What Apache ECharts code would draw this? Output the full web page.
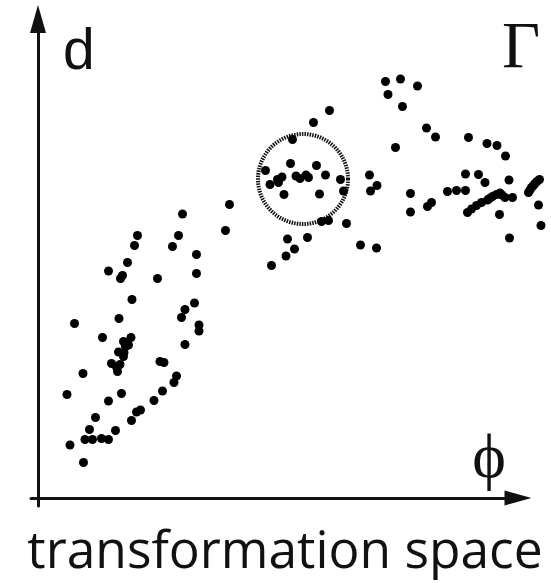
<!DOCTYPE html>
<html>
<head>
<meta charset="utf-8">
<script src="https://cdn.jsdelivr.net/npm/echarts@6/dist/echarts.min.js"></script>
<style>
  html, body { margin: 0; padding: 0; background: #fff; }
  #chart { width: 551px; height: 583px; }
</style>
</head>
<body>
<div id="chart"></div>
<script>
// Samples in transformation space: [phi, d]
const risingBranch = [
  [28.9, 56.8], [19.9, 52.5], [28.1, 52.5], [19.3, 50.5], [26.9, 50.3], [31.7, 48.7],
  [17.9, 47.1], [14.1, 45.4], [16.9, 44.5], [16.5, 43.9], [23.9, 43.9], [31.7, 44.9],
  [18.8, 39.7], [31.3, 39.0], [29.4, 37.7], [28.7, 36.1], [16.2, 35.9], [7.3, 34.9],
  [32.2, 34.6], [32.2, 33.4], [12.9, 32.1], [18.6, 32.1], [17.1, 31.3], [29.4, 30.7],
  [17.5, 30.3], [18.1, 30.6], [16.1, 29.2], [17.2, 29.1], [17.1, 28.3], [14.7, 26.9],
  [16.4, 26.7], [15.7, 26.2], [24.4, 27.3], [25.2, 27.1], [15.9, 25.3], [9.0, 24.9],
  [27.7, 24.4], [27.2, 23.1], [5.8, 20.7], [16.7, 20.9], [24.9, 21.4], [14.1, 19.4],
  [23.2, 19.5], [20.5, 17.6], [19.7, 17.2], [11.5, 16.1], [18.7, 15.5], [10.3, 13.7],
  [15.5, 13.5], [9.4, 11.7], [10.9, 11.7], [12.7, 11.9], [14.1, 11.7], [6.4, 10.6],
  [9.1, 7.1]
];

const middleBranch = [
  [38.3, 58.7], [37.5, 53.5], [46.7, 46.5], [58.3, 77.5], [55.1, 75.1], [50.9, 71.7],
  [50.5, 66.9], [55.7, 66.5], [45.5, 65.5], [57.5, 64.6], [48.8, 64.2], [47.9, 63.7],
  [51.6, 64.4], [52.4, 63.9], [53.6, 64.6], [54.1, 64.1], [60.5, 63.7], [46.4, 62.7],
  [48.1, 63.1], [61.1, 61.4], [49.2, 60.7], [56.3, 60.8], [56.7, 55.3], [58.1, 55.5],
  [61.7, 54.9], [49.9, 51.8], [53.9, 52.1], [51.3, 49.8], [49.6, 48.4], [64.5, 50.6],
  [67.7, 50.0]
];

const plateauBranch = [
  [69.5, 83.3], [72.5, 83.8], [75.9, 82.4], [70.0, 80.7], [72.9, 78.3], [77.7, 74.0],
  [79.5, 72.2], [86.1, 72.1], [71.5, 70.1], [89.8, 70.9], [91.8, 70.5], [93.5, 68.4],
  [66.3, 64.6], [85.5, 64.8], [88.1, 64.7], [94.2, 63.6], [89.4, 63.1], [100.3, 63.7],
  [99.8, 63.3], [99.4, 62.9], [99.1, 62.5], [98.7, 62.1], [98.4, 61.6], [98.1, 61.1],
  [67.8, 62.5], [66.5, 61.4], [81.9, 61.3], [83.7, 61.5], [85.5, 61.5], [74.5, 60.9],
  [91.7, 60.7], [92.4, 61.0], [92.8, 60.6], [90.9, 60.3], [90.3, 59.9], [93.4, 60.1],
  [94.9, 60.1], [89.9, 59.6], [88.7, 59.1], [87.7, 58.5], [86.7, 57.8], [85.9, 57.1],
  [78.7, 59.1], [77.9, 58.3], [74.5, 57.2], [100.1, 58.6], [92.3, 56.7], [100.6, 54.5],
  [94.3, 52.0]
];

// Neighbourhood marked with a dotted circle
const regionCenter = [53.0, 63.8];
const regionRadius = 9.0;

const chart = echarts.init(document.getElementById('chart'), null, { renderer: 'canvas' });

const dotStyle = { color: '#000', opacity: 1 };
const hidden = { show: false };

chart.setOption({
  backgroundColor: '#ffffff',
  animation: false,
  grid: { left: 31, top: 19, width: 487, height: 487 },
  xAxis: {
    type: 'value', min: -1.4, max: 96,
    axisLine: {
      show: true, onZero: true,
      symbol: ['none', 'triangle'], symbolSize: [15, 27],
      lineStyle: { color: '#111', width: 3 }
    },
    axisTick: hidden, axisLabel: hidden, splitLine: hidden
  },
  yAxis: {
    type: 'value', min: -1.6, max: 95.8,
    axisLine: {
      show: true, onZero: true,
      symbol: ['none', 'triangle'], symbolSize: [16, 28],
      lineStyle: { color: '#111', width: 3 }
    },
    axisTick: hidden, axisLabel: hidden, splitLine: hidden
  },
  series: [
    { type: 'scatter', data: risingBranch, symbolSize: 9, itemStyle: dotStyle, clip: false },
    { type: 'scatter', data: middleBranch, symbolSize: 9, itemStyle: dotStyle, clip: false },
    { type: 'scatter', data: plateauBranch, symbolSize: 9, itemStyle: dotStyle, clip: false },
    {
      type: 'custom',
      data: [[regionCenter[0], regionCenter[1], regionRadius]],
      clip: false,
      renderItem: function (params, api) {
        const c = api.coord([api.value(0), api.value(1)]);
        const r = api.size([api.value(2), 0])[0];
        return {
          type: 'circle',
          shape: { cx: c[0], cy: c[1], r: r },
          style: { fill: 'none', stroke: '#111', lineWidth: 4, lineDash: [1.5, 1.1] }
        };
      }
    }
  ],
  graphic: [
    { type: 'text', style: { text: 'd', x: 63, y: 53, font: '57px "Liberation Sans"', fill: '#111', textAlign: 'left', textVerticalAlign: 'middle' } },
    { type: 'text', style: { text: 'Γ', x: 502, y: 50, font: '66px "Liberation Serif"', fill: '#111', textAlign: 'left', textVerticalAlign: 'middle' } },
    { type: 'text', style: { text: 'ϕ', x: 489, y: 460, font: '64px "Liberation Serif", "DejaVu Serif"', fill: '#111', textAlign: 'center', textVerticalAlign: 'middle' } },
    { type: 'text', style: { text: 'transformation space', x: 285, y: 553, font: '51.5px "Open Sans"', fill: '#111', textAlign: 'center', textVerticalAlign: 'middle' } }
  ]
});
</script>
</body>
</html>
